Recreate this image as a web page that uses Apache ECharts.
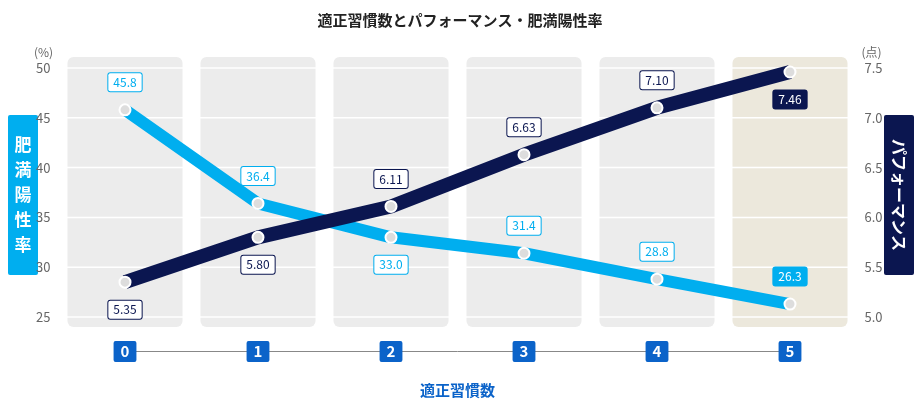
<!DOCTYPE html><html><head><meta charset="utf-8"><script src="https://cdn.jsdelivr.net/npm/echarts@6/dist/echarts.min.js"></script></head><body style="margin:0"><div id="c" style="width:920px;height:410px"></div><script>
const categories=['0','1','2','3','4','5'];
const obesity=[45.8,36.4,33.0,31.4,28.8,26.3];
const perf=[5.35,5.80,6.11,6.63,7.10,7.46];
const gridLevels=[25,30,35,40,45,50];
const obesityPos=['top','top','bottom','top','top','top'];
const perfPos=['bottom','bottom','top','top','top','bottom'];
const F='"Noto Sans CJK JP","Noto Sans",sans-serif';
const BLUE='#00aeef',NAVY='#0b1650',CAT='#0b63c9';
function lbl(pos,color,last){return {show:true,position:pos,distance:12,fontFamily:F,fontSize:12,
 color:last?'#fff':color,backgroundColor:last?color:'#fff',borderColor:color,borderWidth:1,borderRadius:2,padding:[3,5]};}
const chart=echarts.init(document.getElementById('c'));
chart.setOption({
 title:{text:'適正習慣数とパフォーマンス・肥満陽性率',left:'center',top:8,textStyle:{fontFamily:F,fontSize:15,fontWeight:'bold',color:'#222'}},
 grid:[{left:58.5,right:63.5,top:68,bottom:93},{left:125,right:130,top:350,height:1}],
 xAxis:[{type:'category',data:categories,gridIndex:0,axisLine:{show:false},axisTick:{show:false},axisLabel:{show:false}},
  {type:'category',data:categories,gridIndex:1,boundaryGap:false,axisLine:{lineStyle:{color:'#888'}},axisTick:{show:false},
   axisLabel:{margin:-10,fontFamily:F,fontSize:15,fontWeight:'bold',color:'#fff',backgroundColor:CAT,padding:[3,7],borderRadius:2},
   name:'適正習慣数',nameLocation:'middle',nameGap:32,nameTextStyle:{fontFamily:F,fontSize:15,fontWeight:'bold',color:CAT}}],
 yAxis:[{type:'value',gridIndex:0,min:25,max:50,interval:5,name:'(%)',nameGap:10,nameTextStyle:{color:'#666',fontFamily:F,padding:[0,30,0,0]},
   axisLabel:{color:'#666',fontSize:13,fontFamily:F},splitLine:{show:false},axisLine:{show:false},axisTick:{show:false}},
  {type:'value',gridIndex:0,min:5,max:7.5,interval:0.5,name:'(点)',nameGap:10,nameTextStyle:{color:'#666',fontFamily:F,padding:[0,0,0,30]},
   axisLabel:{color:'#666',fontSize:13,fontFamily:F,formatter:v=>v.toFixed(1)},splitLine:{show:false},axisLine:{show:false},axisTick:{show:false}},
  {type:'value',gridIndex:1,show:false,min:0,max:1}],
 graphic:[
  {type:'group',left:8,top:115,children:[{type:'rect',shape:{width:30,height:160,r:2},style:{fill:BLUE}},
   {type:'text',style:{text:'肥\n満\n陽\n性\n率',x:15,y:80,align:'center',verticalAlign:'middle',fill:'#fff',font:'bold 17px '+F,lineHeight:25}}]},
  {type:'group',right:6,top:115,children:[{type:'rect',shape:{width:30,height:160,r:2},style:{fill:NAVY}},
   {type:'text',rotation:-Math.PI/2,x:15,y:80,style:{text:'パフォーマンス',align:'center',verticalAlign:'middle',fill:'#fff',font:'bold 16px '+F}}]}
 ],
 series:[
  {type:'custom',xAxisIndex:0,yAxisIndex:0,z:0,silent:true,data:categories.map((c,i)=>[i]),
   renderItem:(p,api)=>{const x=api.coord([api.value(0),50]);const b=api.coord([api.value(0),25]);const w=api.size([1,0])[0]*0.865;
    return {type:'rect',shape:{x:x[0]-w/2,y:x[1]-11,width:w,height:b[1]-x[1]+21,r:6},style:{fill:api.value(0)===5?'#ece8dc':'#ececec'}};}},
  {type:'custom',xAxisIndex:0,yAxisIndex:0,z:1,silent:true,data:gridLevels.map(v=>[0,v]),
   renderItem:(p,api)=>{const a=api.coord([0,api.value(1)]);const w=api.size([1,0])[0];
    return {type:'line',shape:{x1:a[0]-w/2,y1:a[1],x2:a[0]+w*5.5,y2:a[1]},style:{stroke:'#fff',lineWidth:1.5}};}},
  {type:'line',name:'肥満陽性率',xAxisIndex:0,yAxisIndex:0,z:3,data:obesity.map((v,i)=>({value:v,label:lbl(obesityPos[i],BLUE,i===5)})),
   lineStyle:{color:BLUE,width:12},symbol:'circle',symbolSize:11,itemStyle:{color:'#ddd',borderColor:'#fff',borderWidth:2},
   label:{show:true,formatter:p=>p.value.toFixed(1)}},
  {type:'line',name:'パフォーマンス',xAxisIndex:0,yAxisIndex:1,z:4,data:perf.map((v,i)=>({value:v,label:lbl(perfPos[i],NAVY,i===5)})),
   lineStyle:{color:NAVY,width:14},symbol:'circle',symbolSize:11,itemStyle:{color:'#ddd',borderColor:'#fff',borderWidth:2},
   label:{show:true,formatter:p=>p.value.toFixed(2)}},
  {type:'line',xAxisIndex:1,yAxisIndex:2,data:[],silent:true}
 ]
});
</script></body></html>
